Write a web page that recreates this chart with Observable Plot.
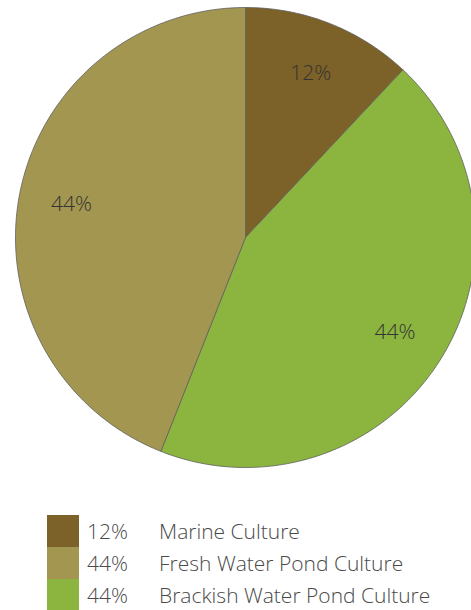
<!DOCTYPE html>
<html>
<head>
<meta charset="utf-8">
<script src="https://cdn.jsdelivr.net/npm/d3@7"></script>
<script src="https://cdn.jsdelivr.net/npm/@observablehq/plot@0.6"></script>
<style>
  html, body { margin: 0; padding: 0; background: #fff; }
  body { width: 471px; height: 610px; overflow: hidden; font-family: "Open Sans", Lato, sans-serif; }
  #chart svg { display: block; overflow: hidden; }
  .legend { position: absolute; left: 47px; top: 515px; }
  .row { display: flex; align-items: center; height: 32px; }
  .sw { width: 32px; height: 32px; }
  .pct { width: 72px; padding-left: 8px; font-size: 21px; font-weight: 300; color: #4a4a4a; }
  .lab { font-size: 21px; font-weight: 300; color: #4a4a4a; white-space: nowrap; }
</style>
</head>
<body>
<div id="chart"></div>
<div class="legend" id="legend"></div>
<script>
// Pie order (clockwise from 12 o'clock)
const categories = ["Marine Culture", "Brackish Water Pond Culture", "Fresh Water Pond Culture"];
const shares = [12, 44, 44];
const colors = ["#7c6128", "#8bb53f", "#a39650"];
// Legend order
const legendCategories = ["Marine Culture", "Fresh Water Pond Culture", "Brackish Water Pond Culture"];

const rows = categories.map((c, i) => ({name: c, share: shares[i], color: colors[i]}));
const arcs = d3.pie().sort(null).value(d => d.share)(rows);

// outline geometry for each slice (unit circle)
const outline = [];
for (const a of arcs) {
  outline.push({name: a.data.name, x: 0, y: 0});
  const n = Math.max(2, Math.ceil((a.endAngle - a.startAngle) / (Math.PI / 180)));
  for (let k = 0; k <= n; k++) {
    const t = a.startAngle + (a.endAngle - a.startAngle) * k / n;
    outline.push({name: a.data.name, x: Math.sin(t), y: Math.cos(t)});
  }
  outline.push({name: a.data.name, x: 0, y: 0});
}
const labelR = 0.77;
const labels = arcs.map(a => {
  const m = (a.startAngle + a.endAngle) / 2;
  return {name: a.data.name, text: a.data.share + "%", x: labelR * Math.sin(m), y: labelR * Math.cos(m)};
});

const chart = Plot.plot({
  width: 471,
  height: 500,
  x: {domain: [-1, 1], range: [15, 475], axis: null},
  y: {domain: [-1, 1], range: [467, 7], axis: null},
  color: {domain: categories, range: colors},
  style: {fontFamily: "'Open Sans', Lato, sans-serif", background: "#fff"},
  marks: [
    Plot.line(outline, {x: "x", y: "y", z: "name", fill: "name", stroke: "#5f5f5f", strokeWidth: 0.8, curve: "linear"}),
    Plot.text(labels, {x: "x", y: "y", text: "text", fontSize: 21, fontWeight: 300, fill: "#333"})
  ]
});
document.getElementById("chart").appendChild(chart);

const legend = document.getElementById("legend");
for (const name of legendCategories) {
  const i = categories.indexOf(name);
  const row = document.createElement("div");
  row.className = "row";
  row.innerHTML = `<div class="sw" style="background:${colors[i]}"></div><div class="pct">${shares[i]}%</div><div class="lab">${name}</div>`;
  legend.appendChild(row);
}
</script>
</body>
</html>
